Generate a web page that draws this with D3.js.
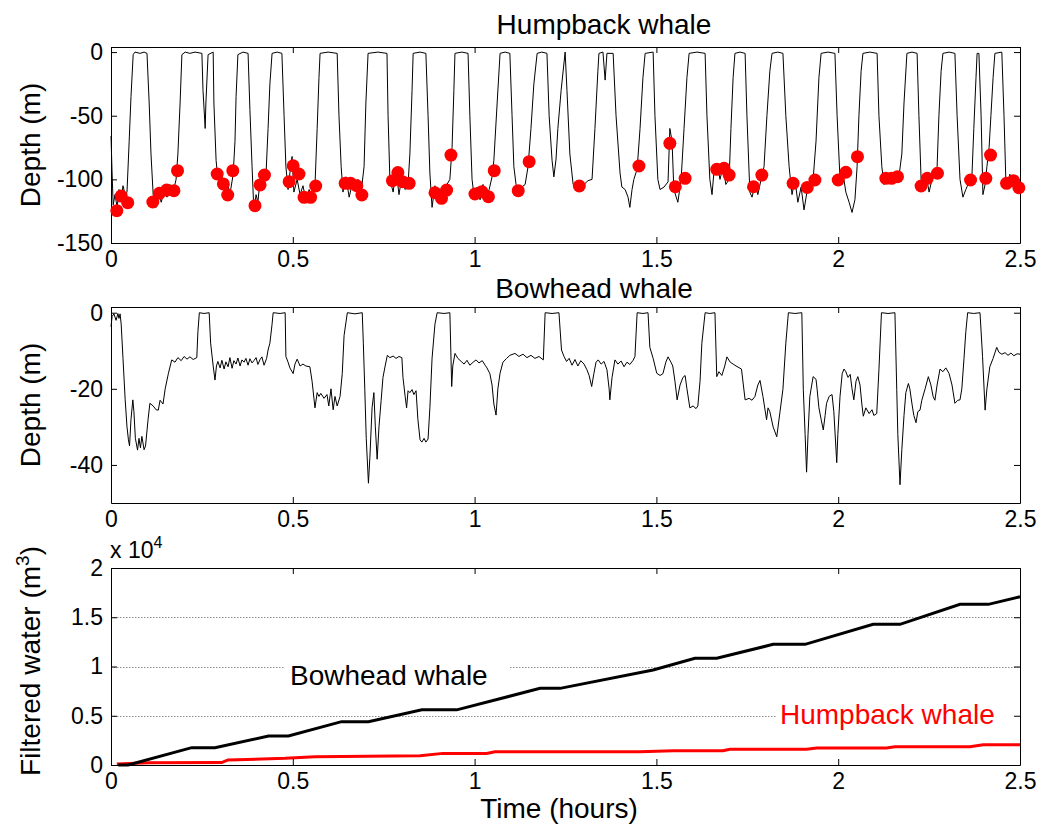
<!DOCTYPE html>
<html>
<head>
<meta charset="utf-8">
<script src="https://cdn.jsdelivr.net/npm/d3@7"></script>
<style>
  body { margin: 0; background: #fff; }
  text { font-family: "Liberation Sans", Arial, sans-serif; }
</style>
</head>
<body>
<div id="chart"></div>
<script>
// ---- data (time in hours, depth in m, water in m3) ----
const xTicks = [0, 0.5, 1, 1.5, 2, 2.5];
const humpbackDepthTicks = [0, -50, -100, -150];
const bowheadDepthTicks = [0, -20, -40];
const waterTicks = [0, 5000, 10000, 15000, 20000];

const humpbackProfile = [
  [0.000,-66],[0.003,-95],[0.006,-120],[0.011,-112],[0.017,-122],[0.022,-108],[0.028,-116],[0.033,-105],[0.039,-112],[0.044,-110],[0.050,-70],[0.055,-35],[0.061,-2],[0.066,0],[0.080,-1],[0.091,0],[0.099,-1],
  [0.105,-40],[0.110,-80],[0.116,-112],[0.124,-122],[0.129,-108],[0.138,-118],[0.146,-110],[0.154,-114],[0.162,-104],[0.171,-110],[0.179,-100],[0.184,-80],[0.190,-40],[0.195,-2],[0.204,0],[0.217,-1],[0.231,0],[0.250,-1],
  [0.253,-30],[0.259,-60],[0.261,-40],[0.267,-2],[0.281,0],
  [0.283,-40],[0.289,-85],[0.294,-100],[0.303,-94],[0.311,-108],[0.319,-100],[0.327,-112],[0.336,-96],[0.341,-70],[0.344,-35],[0.349,-2],[0.363,0],[0.377,-1],
  [0.382,-45],[0.388,-90],[0.393,-125],[0.399,-112],[0.404,-118],[0.410,-100],[0.415,-108],[0.421,-92],[0.426,-98],[0.432,-60],[0.437,-25],[0.443,-1],[0.457,0],[0.470,-1],
  [0.476,-50],[0.481,-90],[0.487,-108],[0.492,-95],[0.498,-82],[0.503,-110],[0.512,-100],[0.520,-112],[0.528,-105],[0.536,-116],[0.545,-108],[0.553,-115],[0.561,-105],[0.567,-60],[0.572,-20],[0.575,-1],[0.597,0],[0.622,-1],
  [0.627,-50],[0.633,-90],[0.638,-110],[0.646,-98],[0.655,-114],[0.663,-104],[0.671,-108],[0.679,-100],[0.688,-110],[0.696,-90],[0.701,-40],[0.707,-1],[0.734,0],[0.759,-1],
  [0.762,-50],[0.767,-100],[0.776,-110],[0.784,-92],[0.792,-112],[0.800,-98],[0.809,-108],[0.817,-104],[0.822,-80],[0.828,-30],[0.831,-1],[0.850,0],[0.866,-1],
  [0.872,-50],[0.877,-95],[0.883,-122],[0.891,-105],[0.899,-118],[0.908,-108],[0.916,-116],[0.924,-104],[0.932,-100],[0.938,-75],[0.943,-30],[0.946,-1],[0.965,0],[0.982,-1],
  [0.987,-50],[0.993,-100],[0.998,-112],[1.007,-106],[1.015,-116],[1.023,-104],[1.031,-114],[1.040,-108],[1.048,-98],[1.053,-85],[1.062,-40],[1.070,-1],[1.084,0],[1.097,-1],
  [1.103,-50],[1.108,-90],[1.114,-104],[1.122,-108],[1.130,-106],[1.139,-104],[1.147,-90],[1.155,-60],[1.163,-25],[1.172,-1],[1.185,0],[1.199,-1],
  [1.205,-50],[1.213,-85],[1.218,-98],[1.224,-84],[1.229,-60],[1.238,-30],[1.249,0],[1.254,-30],[1.262,-80],[1.271,-104],[1.282,-106],[1.290,-103],[1.301,-104],[1.312,-101],[1.323,-100],[1.331,-60],[1.339,-15],[1.342,-1],[1.353,0],[1.359,-22],[1.364,-1],[1.381,-1],
  [1.389,-50],[1.400,-95],[1.405,-106],[1.414,-108],[1.422,-114],[1.427,-122],[1.433,-108],[1.438,-100],[1.447,-92],[1.455,-60],[1.463,-20],[1.469,-1],[1.491,0],
  [1.496,-50],[1.504,-100],[1.510,-108],[1.521,-106],[1.532,-102],[1.537,-60],[1.543,-70],[1.548,-108],[1.559,-118],[1.568,-100],[1.576,-60],[1.584,-20],[1.590,-1],[1.612,0],[1.634,-1],
  [1.639,-50],[1.647,-100],[1.653,-112],[1.658,-95],[1.667,-88],[1.675,-100],[1.683,-90],[1.691,-104],[1.700,-100],[1.705,-60],[1.711,-20],[1.716,-1],[1.730,0],[1.744,-1],
  [1.749,-50],[1.757,-110],[1.763,-114],[1.771,-104],[1.779,-112],[1.788,-100],[1.796,-90],[1.804,-50],[1.812,-15],[1.818,-1],[1.834,0],[1.848,-1],
  [1.856,-50],[1.865,-90],[1.873,-112],[1.881,-100],[1.889,-118],[1.898,-106],[1.906,-124],[1.914,-110],[1.922,-104],[1.931,-100],[1.939,-70],[1.947,-20],[1.953,-1],[1.972,0],[1.991,-1],
  [1.997,-50],[2.005,-100],[2.013,-95],[2.021,-110],[2.030,-118],[2.038,-126],[2.046,-116],[2.052,-90],[2.057,-50],[2.063,-15],[2.068,-1],[2.087,0],[2.107,-1],
  [2.112,-50],[2.120,-90],[2.126,-104],[2.134,-98],[2.142,-100],[2.151,-96],[2.159,-100],[2.167,-98],[2.175,-80],[2.181,-40],[2.189,-1],[2.203,0],[2.217,-1],
  [2.222,-50],[2.228,-100],[2.233,-106],[2.241,-95],[2.250,-110],[2.258,-100],[2.266,-96],[2.272,-90],[2.277,-50],[2.283,-15],[2.288,-1],[2.305,0],[2.321,-1],
  [2.327,-50],[2.335,-100],[2.343,-114],[2.351,-108],[2.360,-102],[2.368,-96],[2.373,-60],[2.379,-20],[2.382,-1],[2.387,-1],
  [2.393,-50],[2.398,-112],[2.404,-104],[2.409,-90],[2.415,-75],[2.420,-50],[2.426,-20],[2.431,-1],[2.450,0],
  [2.456,-50],[2.461,-100],[2.467,-104],[2.472,-96],[2.481,-106],[2.489,-100],[2.494,-108],[2.500,-104]
];

const humpbackLunges = [
  [0.016,-124.6],[0.028,-113.1],[0.046,-118.3],[0.115,-117.8],[0.133,-111],[0.153,-108.4],[0.173,-108.9],[0.183,-93.2],
  [0.292,-95.8],[0.309,-103.6],[0.321,-112.3],[0.335,-93.2],[0.396,-120.7],[0.410,-104.4],[0.422,-96.6],
  [0.490,-101.8],[0.501,-89.3],[0.517,-95.8],[0.531,-114.1],[0.549,-114.1],[0.563,-105.2],
  [0.644,-103.1],[0.659,-103.1],[0.676,-105],[0.690,-112.3],[0.774,-101],[0.789,-94.7],[0.802,-101.8],[0.820,-103.1],
  [0.891,-110.5],[0.909,-114.9],[0.923,-108.4],[0.935,-80.9],[1.001,-111.5],[1.020,-109.7],[1.038,-113.6],[1.054,-93.2],
  [1.120,-108.9],[1.150,-86.1],[1.288,-105.2],[1.452,-89.5],[1.537,-71.7],[1.552,-105.8],[1.579,-99.2],
  [1.666,-92.1],[1.686,-91.3],[1.700,-96.6],[1.767,-105.8],[1.790,-96.6],[1.876,-103.1],[1.915,-106.3],[1.936,-100.5],
  [2.000,-100.5],[2.021,-94.4],[2.053,-82.2],[2.131,-99.2],[2.147,-99.2],[2.163,-97.9],[2.228,-105.2],[2.245,-99.2],[2.273,-95.2],
  [2.364,-100.5],[2.406,-99.2],[2.419,-80.9],[2.463,-103.1],[2.482,-101],[2.497,-106.6]
];

const bowheadProfile = [
  [0.000,-3.7],[0.003,-1],[0.008,-0.3],[0.014,-2],[0.019,-0.2],[0.022,-1.5],[0.025,-0.3],[0.028,-3],[0.033,-12],[0.039,-22.9],[0.044,-30],[0.048,-33.4],[0.051,-35],[0.055,-28],[0.060,-22.9],[0.063,-26],[0.067,-33],[0.073,-36.1],[0.077,-33],[0.081,-35.5],[0.085,-32.5],[0.091,-36],[0.095,-35],[0.102,-28],[0.107,-23.8],[0.116,-24.5],[0.124,-25.5],[0.130,-25.6],[0.135,-23],[0.143,-24],[0.149,-20],[0.158,-15.9],[0.167,-12.4],[0.176,-13],[0.184,-11.8],[0.193,-12.6],[0.201,-11.5],[0.209,-12.2],[0.217,-11.6],[0.226,-12.3],[0.236,-11.8],[0.239,-5],[0.243,0],[0.256,-0.2],[0.270,0],
  [0.274,-8],[0.281,-14],[0.286,-17.7],[0.290,-14],[0.294,-12.8],[0.300,-14.5],[0.305,-12.5],[0.311,-14.8],[0.316,-12.9],[0.322,-14.2],[0.327,-11.8],[0.333,-14.6],[0.338,-12.6],[0.344,-13.5],[0.349,-11.9],[0.355,-14],[0.360,-12.4],[0.366,-13],[0.371,-12],[0.377,-13.8],[0.382,-12.1],[0.388,-13.2],[0.393,-12.6],[0.399,-11.8],[0.404,-13.6],[0.410,-12.3],[0.415,-11.6],[0.421,-13.8],[0.428,-12],[0.432,-9.8],[0.437,-8],[0.443,-3],[0.446,0],[0.465,-0.2],[0.479,0],
  [0.481,-11.5],[0.487,-13],[0.492,-14.5],[0.501,-16],[0.506,-13.5],[0.512,-12.2],[0.520,-14],[0.528,-13.5],[0.536,-14],[0.547,-14.2],[0.553,-18],[0.561,-25],[0.567,-21],[0.572,-22],[0.577,-21.2],[0.586,-22.5],[0.594,-21.5],[0.599,-24.5],[0.605,-20],[0.611,-25.5],[0.616,-22],[0.622,-24.5],[0.630,-22],[0.636,-16],[0.641,-6],[0.650,0],[0.671,-0.3],[0.691,0],
  [0.694,-8],[0.698,-20.1],[0.702,-33],[0.708,-44.8],[0.712,-38],[0.718,-25],[0.723,-21],[0.727,-30],[0.732,-38.5],[0.737,-30],[0.743,-23],[0.748,-17],[0.754,-14],[0.760,-11.2],[0.767,-11.8],[0.776,-11.4],[0.784,-12],[0.792,-11.5],[0.800,-11.8],[0.803,-17],[0.809,-22],[0.813,-25],[0.817,-20.5],[0.822,-21],[0.828,-20.2],[0.833,-21.5],[0.839,-20.5],[0.844,-28],[0.850,-33.4],[0.855,-34],[0.861,-33],[0.866,-34],[0.872,-33.2],[0.877,-25],[0.883,-12],[0.891,-3],[0.897,0],[0.916,-0.2],[0.932,0],
  [0.937,-19.4],[0.940,-14],[0.946,-10.7],[0.954,-12],[0.963,-12.8],[0.971,-13.5],[0.979,-12.5],[0.987,-13.8],[0.996,-13],[1.004,-12.4],[1.012,-13.2],[1.021,-12.6],[1.029,-13.8],[1.034,-14.5],[1.042,-16],[1.048,-19],[1.053,-24],[1.059,-26.9],[1.064,-20],[1.070,-15.9],[1.078,-13],[1.088,-12],[1.097,-11.2],[1.111,-10.7],[1.122,-11.5],[1.133,-10.9],[1.144,-11.8],[1.155,-11.2],[1.166,-12],[1.177,-11.5],[1.189,-12.4],[1.194,0],[1.213,-0.2],[1.232,0],
  [1.239,-9.8],[1.246,-11.5],[1.253,-12.8],[1.260,-12],[1.268,-13.8],[1.276,-12.3],[1.284,-14],[1.292,-12.6],[1.301,-13.5],[1.309,-15],[1.315,-16.5],[1.322,-19.4],[1.328,-16],[1.334,-13],[1.340,-12.4],[1.348,-13.5],[1.356,-12.8],[1.364,-15],[1.370,-20],[1.372,-22.9],[1.378,-17],[1.386,-12.4],[1.394,-13.5],[1.403,-12.7],[1.411,-14.2],[1.419,-13],[1.427,-13.6],[1.436,-12.5],[1.441,-11.5],[1.447,0],[1.463,-0.2],[1.477,0],
  [1.482,-9.1],[1.491,-12],[1.501,-15.9],[1.510,-16.5],[1.518,-16],[1.526,-13],[1.532,-11.6],[1.540,-13],[1.545,-14],[1.551,-18],[1.557,-22.9],[1.565,-19],[1.573,-17],[1.579,-16.5],[1.584,-20],[1.592,-25],[1.601,-24.5],[1.609,-25.2],[1.614,-24.5],[1.620,-18],[1.625,-8],[1.634,0],[1.647,-0.2],[1.661,0],
  [1.666,-16.8],[1.672,-15.5],[1.680,-16.5],[1.688,-14],[1.694,-11.6],[1.703,-13],[1.711,-13.5],[1.719,-14],[1.734,-14.8],[1.744,-22.9],[1.755,-22.5],[1.763,-23],[1.771,-22],[1.779,-19],[1.785,-17.8],[1.793,-22],[1.803,-28.1],[1.807,-25],[1.812,-26],[1.821,-30],[1.831,-32.6],[1.840,-26],[1.848,-20.1],[1.856,-8],[1.863,0],[1.881,-0.2],[1.900,0],
  [1.904,-20.1],[1.909,-32],[1.913,-41.9],[1.917,-32],[1.922,-22],[1.931,-16.8],[1.939,-17.5],[1.942,-20.1],[1.947,-25],[1.953,-28],[1.959,-30.8],[1.964,-27],[1.968,-23.8],[1.975,-22],[1.983,-21.5],[1.988,-26],[1.996,-39.4],[1.999,-32],[2.005,-22],[2.011,-16],[2.016,-14.8],[2.021,-15.5],[2.027,-17],[2.033,-16.2],[2.038,-20],[2.043,-22.9],[2.049,-18],[2.054,-16.8],[2.060,-19],[2.065,-24],[2.069,-27.2],[2.076,-25],[2.085,-26.5],[2.093,-25.5],[2.098,-27],[2.106,-26.5],[2.112,-15],[2.119,0],[2.137,-0.2],[2.156,0],
  [2.161,-20.1],[2.164,-32],[2.170,-45.2],[2.175,-36],[2.181,-27],[2.186,-21],[2.193,-18.6],[2.197,-20],[2.203,-24],[2.208,-27],[2.214,-28.9],[2.219,-26],[2.225,-25.6],[2.230,-23],[2.239,-20],[2.248,-16.8],[2.255,-19],[2.261,-22],[2.266,-23],[2.272,-19],[2.280,-14.8],[2.288,-15.5],[2.296,-14.5],[2.305,-16],[2.313,-19],[2.321,-23.8],[2.329,-23],[2.335,-22.9],[2.340,-20],[2.346,-12],[2.351,-5],[2.356,0],[2.373,-0.2],[2.390,0],
  [2.397,-11.55],[2.404,-25.6],[2.409,-20],[2.417,-14.2],[2.426,-12],[2.436,-9.1],[2.442,-10.4],[2.450,-10.9],[2.459,-10.5],[2.467,-11.2],[2.475,-10.6],[2.483,-11.3],[2.492,-10.8],[2.500,-10.9]
];

const bowheadWater = [
  [0.020,0],[0.047,0],[0.222,1760],[0.286,1760],[0.433,2940],[0.488,2940],[0.634,4400],[0.708,4400],
  [0.855,5600],[0.951,5600],[1.180,7780],[1.235,7780],[1.491,9640],[1.606,10830],[1.666,10830],
  [1.821,12250],[1.909,12250],[2.096,14280],[2.170,14280],[2.335,16310],[2.413,16310],[2.500,17080]
];

const humpbackWater = [
  [0.016,100],[0.103,240],[0.304,250],[0.322,510],[0.479,680],[0.561,850],[0.850,950],[0.913,1180],
  [1.033,1180],[1.056,1350],[1.455,1350],[1.546,1450],[1.683,1450],[1.702,1600],[1.913,1600],
  [1.941,1720],[2.133,1720],[2.156,1860],[2.362,1860],[2.399,2050],[2.500,2050]
];

// ---- layout ----
const width = 1042, height = 832;
const left = 111, right = 1020;
const tickLen = 6;

const svg = d3.select("#chart")
  .append("svg")
  .attr("width", width)
  .attr("height", height)
  .style("background", "white");

const x = d3.scaleLinear().domain([0, 2.5]).range([left, right]);

// draws the boxed MATLAB-style axes and returns the y scale
function drawFrame(top, bottom, yDomain, yTicks, yFormat) {
  const y = d3.scaleLinear().domain(yDomain).range([bottom, top]);
  const g = svg.append("g").attr("class", "frame");

  const bx = g.append("g").attr("transform", `translate(0,${bottom})`)
    .call(d3.axisBottom(x).tickValues(xTicks).tickSizeInner(-tickLen).tickSizeOuter(0)
      .tickPadding(8).tickFormat(d => String(d)));
  g.append("g").attr("transform", `translate(0,${top})`)
    .call(d3.axisTop(x).tickValues(xTicks).tickSizeInner(-tickLen).tickSizeOuter(0).tickFormat(""));
  const ly = g.append("g").attr("transform", `translate(${left},0)`)
    .call(d3.axisLeft(y).tickValues(yTicks).tickSizeInner(-tickLen).tickSizeOuter(0)
      .tickPadding(8).tickFormat(yFormat));
  g.append("g").attr("transform", `translate(${right},0)`)
    .call(d3.axisRight(y).tickValues(yTicks).tickSizeInner(-tickLen).tickSizeOuter(0).tickFormat(""));

  g.selectAll("text")
    .attr("font-family", '"Liberation Sans", Arial, sans-serif')
    .attr("font-size", 23)
    .attr("fill", "#000");
  g.selectAll("path.domain, line").attr("stroke", "#000");
  return y;
}

const lineGen = (y) => d3.line().x(d => x(d[0])).y(d => y(d[1]));

// === panel 1 : humpback dive profile ===
const y1 = drawFrame(47, 243, [-150, 4], humpbackDepthTicks, d => String(d));
svg.append("path")
  .datum(humpbackProfile)
  .attr("d", lineGen(y1))
  .attr("fill", "none")
  .attr("stroke", "#000")
  .attr("stroke-width", 1);
svg.append("g")
  .selectAll("circle")
  .data(humpbackLunges)
  .join("circle")
  .attr("cx", d => x(d[0]))
  .attr("cy", d => y1(d[1]))
  .attr("r", 6.5)
  .attr("fill", "#ff0000");

// === panel 2 : bowhead dive profile ===
const y2 = drawFrame(307, 503, [-50, 1.5], bowheadDepthTicks, d => String(d));
svg.append("path")
  .datum(bowheadProfile)
  .attr("d", lineGen(y2))
  .attr("fill", "none")
  .attr("stroke", "#000")
  .attr("stroke-width", 1);

// === panel 3 : cumulative filtered water ===
const y3 = d3.scaleLinear().domain([0, 20000]).range([765, 568]);
svg.append("g")
  .selectAll("line")
  .data([5000, 10000, 15000])
  .join("line")
  .attr("x1", left).attr("x2", right)
  .attr("y1", d => Math.round(y3(d)) + 0.5)
  .attr("y2", d => Math.round(y3(d)) + 0.5)
  .attr("stroke", "#8c8c8c")
  .attr("stroke-dasharray", "1.5,1.5");

// in-plot labels with white background (covers the grid)
svg.append("rect").attr("x", 285).attr("y", 661).attr("width", 225).attr("height", 31).attr("fill", "#fff");
svg.append("text").attr("x", 290).attr("y", 685).attr("font-size", 28).attr("fill", "#000").text("Bowhead whale");
svg.append("rect").attr("x", 777).attr("y", 700).attr("width", 242).attr("height", 31).attr("fill", "#fff");
svg.append("text").attr("x", 780).attr("y", 724).attr("font-size", 28).attr("fill", "#ff0000").text("Humpback whale");

svg.append("path")
  .datum(humpbackWater)
  .attr("d", lineGen(y3))
  .attr("fill", "none")
  .attr("stroke", "#ff0000")
  .attr("stroke-width", 3);
svg.append("path")
  .datum(bowheadWater)
  .attr("d", lineGen(y3))
  .attr("fill", "none")
  .attr("stroke", "#000")
  .attr("stroke-width", 3);

drawFrame(568, 765, [0, 20000], waterTicks, d => String(d / 1e4));

// === titles and axis labels ===
svg.append("text").attr("x", 604).attr("y", 34).attr("text-anchor", "middle")
  .attr("font-size", 28).text("Humpback whale");
svg.append("text").attr("x", 594).attr("y", 298).attr("text-anchor", "middle")
  .attr("font-size", 28).text("Bowhead whale");

svg.append("text").attr("transform", "translate(40,145) rotate(-90)").attr("text-anchor", "middle")
  .attr("font-size", 28).text("Depth (m)");
svg.append("text").attr("transform", "translate(40,405) rotate(-90)").attr("text-anchor", "middle")
  .attr("font-size", 28).text("Depth (m)");

const fw = svg.append("text").attr("transform", "translate(40,661) rotate(-90)").attr("text-anchor", "middle")
  .attr("font-size", 28);
fw.append("tspan").text("Filtered water (m");
fw.append("tspan").attr("font-size", 19).attr("dy", -11).text("3");
fw.append("tspan").attr("dy", 11).text(")");

// exponent marker
const ex = svg.append("text").attr("x", 110).attr("y", 558).attr("font-size", 23);
ex.append("tspan").text("x 10");
ex.append("tspan").attr("font-size", 16).attr("dy", -10).text("4");

svg.append("text").attr("x", 559).attr("y", 818).attr("text-anchor", "middle")
  .attr("font-size", 28).text("Time (hours)");
</script>
</body>
</html>
